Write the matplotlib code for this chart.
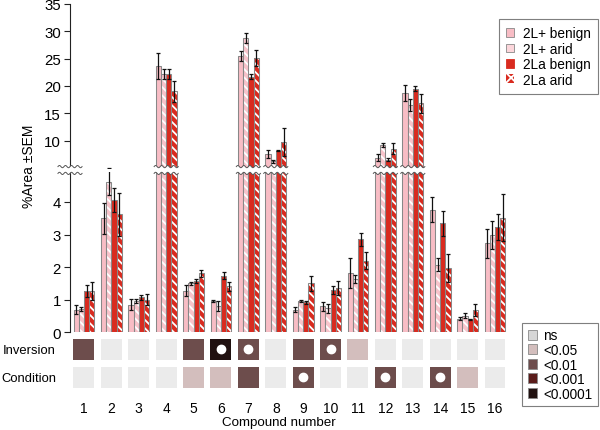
import numpy as np
import matplotlib
matplotlib.use("Agg")
import matplotlib.pyplot as plt
from matplotlib.patches import Patch, Rectangle
from matplotlib.lines import Line2D
from matplotlib.transforms import blended_transform_factory

plt.rcParams["font.family"] = ["Liberation Sans", "DejaVu Sans"]
plt.rcParams["hatch.color"] = "white"
plt.rcParams["hatch.linewidth"] = 1.3

compounds = list(range(1, 17))
series_labels = ["2L+ benign", "2L+ arid", "2La benign", "2La arid"]

# mean %Area per compound
plus_benign = [0.69, 3.50, 0.85, 23.6, 1.27, 0.97, 25.45, 7.56, 0.69, 0.80, 1.81, 6.9, 18.7, 3.76, 0.42, 2.73]
plus_arid = [0.72, 4.60, 0.95, 22.2, 1.50, 0.80, 28.75, 6.2, 0.97, 0.74, 1.63, 9.2, 16.5, 2.07, 0.51, 3.00]
la_benign = [1.26, 4.07, 1.07, 22.2, 1.57, 1.74, 21.7, 8.17, 0.92, 1.30, 2.86, 6.5, 19.5, 3.35, 0.40, 3.23]
la_arid = [1.26, 3.63, 1.00, 19.0, 1.81, 1.41, 25.1, 9.76, 1.50, 1.35, 2.20, 8.5, 16.8, 1.96, 0.69, 3.52]

# SEM
plus_benign_sem = [0.14, 0.48, 0.16, 2.4, 0.17, 0.03, 0.9, 0.7, 0.08, 0.14, 0.46, 0.7, 1.5, 0.38, 0.05, 0.44]
plus_arid_sem = [0.07, 0.39, 0.06, 1.0, 0.04, 0.15, 0.9, 0.35, 0.03, 0.14, 0.13, 0.4, 1.15, 0.2, 0.08, 0.43]
la_benign_sem = [0.19, 0.37, 0.09, 1.0, 0.06, 0.1, 0.45, 0.15, 0.04, 0.13, 0.2, 0.25, 0.5, 0.38, 0.02, 0.4]
la_arid_sem = [0.28, 0.66, 0.17, 2.0, 0.1, 0.13, 1.5, 2.5, 0.22, 0.21, 0.27, 1.0, 1.7, 0.43, 0.19, 0.71]

# significance level: 0 ns, 1 <0.05, 2 <0.01, 3 <0.001, 4 <0.0001
sig_labels = ["ns", "<0.05", "<0.01", "<0.001", "<0.0001"]
inversion_sig = [2, 0, 0, 0, 2, 4, 2, 0, 2, 2, 1, 0, 0, 0, 0, 0]
condition_sig = [0, 0, 0, 0, 1, 1, 2, 0, 2, 0, 0, 2, 0, 2, 1, 0]
inversion_dot = [6, 7, 10]
condition_dot = [9, 12, 14]

bar_colors = ["#F8BDC5", "#F8C4CB", "#D92B1F", "#D92B1F"]
hatched = [False, True, False, True]
heat_colors = ["#EBEBEB", "#D3BEBD", "#6D4D4C", "#5A1C1A", "#211110"]
legend_heat_colors = ["#D6D6D6", "#D3BEBD", "#6D4D4C", "#5A1C1A", "#211110"]
edge_grey = "#888888"

W_PX, H_PX = 600, 431
fig = plt.figure(figsize=(6, 4.31), dpi=100)

def fy(px):
    return 1 - px / H_PX

left = 70 / W_PX
width = 438.7 / W_PX
ax_hi = fig.add_axes([left, fy(169), width, (169 - 5) / H_PX])
ax_lo = fig.add_axes([left, fy(333.3), width, (333.3 - 173) / H_PX])
ax_hm = fig.add_axes([left, fy(392), width, 56 / H_PX])

x = np.array(compounds, dtype=float)
bar_w = 0.19
offsets = [-1.5 * bar_w, -0.5 * bar_w, 0.5 * bar_w, 1.5 * bar_w]
means = [plus_benign, plus_arid, la_benign, la_arid]
sems = [plus_benign_sem, plus_arid_sem, la_benign_sem, la_arid_sem]

for ax in (ax_hi, ax_lo):
    for k in range(4):
        pos = x + offsets[k]
        ax.bar(pos, means[k], width=bar_w, color=bar_colors[k],
               hatch="\\\\\\\\" if hatched[k] else None, linewidth=0, zorder=2)
        ax.bar(pos, means[k], width=bar_w, fill=False, edgecolor=edge_grey,
               linewidth=0.75, zorder=3)
        ax.errorbar(pos, means[k], yerr=sems[k], fmt="none", ecolor="#111111",
                    elinewidth=0.9, capsize=1.5, capthick=0.9, zorder=4)
    ax.set_xlim(0.49, 16.5)
    for s in ("top", "right", "bottom"):
        ax.spines[s].set_visible(False)
    ax.spines["left"].set_color("#222222")
    ax.set_xticks([])
    ax.tick_params(axis="y", length=4, width=0.8, color="#222222",
                   labelsize=10.8, pad=2.5)

ax_hi.set_ylim(5, 35)
ax_hi.set_yticks([10, 15, 20, 25, 30, 35])
ax_lo.set_ylim(0, 4.92)
ax_lo.set_yticks([0, 1, 2, 3, 4])

# axis break waves
trans = blended_transform_factory(ax_lo.transData, fig.transFigure)
lo_top = ax_lo.get_ylim()[1]
spans = [(0.05, 0.93)]
for i, c in enumerate(compounds):
    if max(m[i] for m in means) > lo_top:
        spans.append((c - 0.44, c + 0.44))
amp = 1.1 / H_PX
period = 0.22
for a, b in spans:
    xs = np.linspace(a, b, 80)
    w1 = fy(167.6) + amp * np.sin(2 * np.pi * (xs - a) / period)
    w2 = fy(174.4) + amp * np.sin(2 * np.pi * (xs - a) / period)
    fill = plt.Polygon(np.column_stack([np.r_[xs, xs[::-1]], np.r_[w1, w2[::-1]]]),
                       closed=True, facecolor="white", edgecolor="none",
                       transform=trans, zorder=10)
    fig.add_artist(fill)
    for w in (w1, w2):
        fig.add_artist(Line2D(xs, w, color="#555555", linewidth=0.7,
                              transform=trans, zorder=11))

# significance heatmap
for row_y, levels in ((1, inversion_sig), (0, condition_sig)):
    for c, lev in zip(compounds, levels):
        ax_hm.add_patch(Rectangle((c - 0.383, row_y - 0.375), 0.766, 0.75,
                                  facecolor=heat_colors[lev], edgecolor="none"))
ax_hm.scatter(inversion_dot, [1] * len(inversion_dot), s=36, color="white", zorder=3)
ax_hm.scatter(condition_dot, [0] * len(condition_dot), s=36, color="white", zorder=3)
ax_hm.set_xlim(0.49, 16.5)
ax_hm.set_ylim(-0.5, 1.5)
for s in ax_hm.spines.values():
    s.set_visible(False)
ax_hm.set_xticks(compounds)
ax_hm.set_xticklabels([str(c) for c in compounds])
ax_hm.set_yticks([1, 0])
ax_hm.set_yticklabels(["Inversion", "Condition"])
ax_hm.tick_params(axis="x", length=0, labelsize=10, pad=7.5)
ax_hm.tick_params(axis="y", length=0, labelsize=9.4, pad=10)

fig.text(279 / W_PX, fy(423), "Compound number", ha="center", va="center", fontsize=9.6)
fig.text(29 / W_PX, fy(166), "%Area ±SEM", ha="center", va="center",
         rotation=90, fontsize=10)

# legends
bar_handles = [
    Patch(facecolor=bar_colors[0], edgecolor=edge_grey, linewidth=0.6),
    Patch(facecolor="#FCD6DB", edgecolor=edge_grey, linewidth=0.6),
    Patch(facecolor=bar_colors[2], edgecolor=bar_colors[2], linewidth=0.6),
    Patch(facecolor=bar_colors[3], hatch="xxx", linewidth=0),
]
leg1 = fig.legend(bar_handles, series_labels, loc="upper right",
                  bbox_to_anchor=(598 / W_PX, fy(20)), borderaxespad=0,
                  fontsize=9.8, handlelength=0.6, handleheight=0.6,
                  handletextpad=0.6, labelspacing=0.1, borderpad=0.55,
                  fancybox=False, edgecolor="#7F7F7F", framealpha=1)
leg1.get_frame().set_linewidth(0.8)

sig_handles = [Patch(facecolor=c, edgecolor=edge_grey, linewidth=0.6)
               for c in legend_heat_colors]
leg2 = fig.legend(sig_handles, sig_labels, loc="upper right",
                  bbox_to_anchor=(598 / W_PX, fy(324)), borderaxespad=0,
                  fontsize=9.8, handlelength=0.72, handleheight=0.72,
                  handletextpad=0.45, labelspacing=0.04, borderpad=0.4,
                  fancybox=False, edgecolor="#7F7F7F", framealpha=1)
leg2.get_frame().set_linewidth(0.8)

fig.savefig("out.png", dpi=100)
